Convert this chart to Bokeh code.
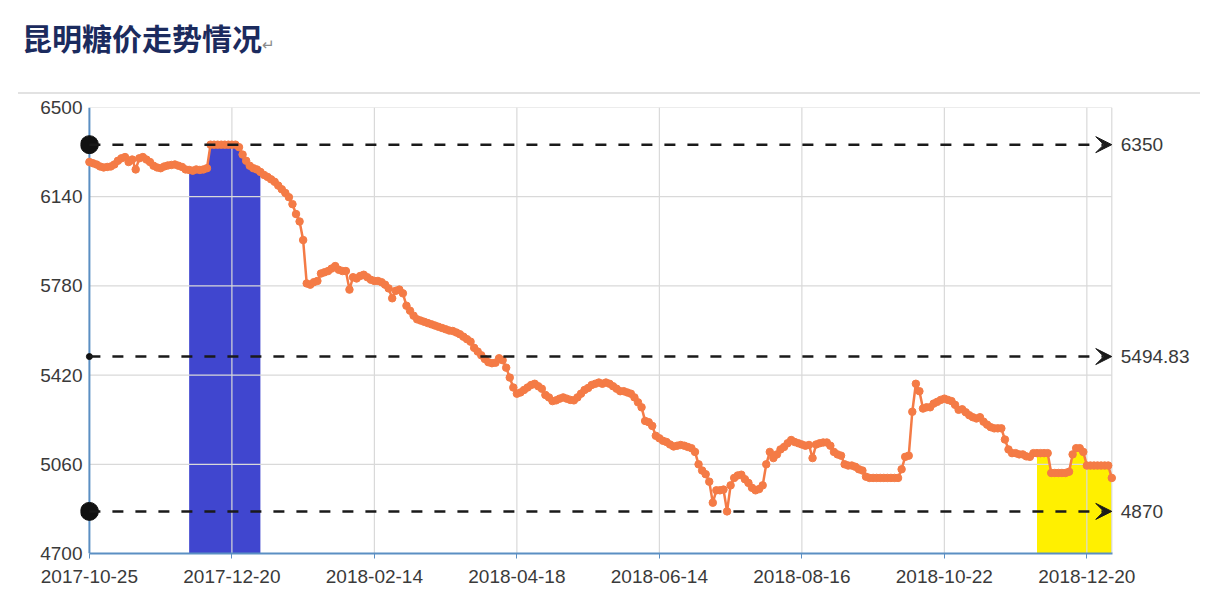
from bokeh.plotting import figure
from bokeh.models import Range1d, FixedTicker, Arrow, VeeHead, Label, Span, Div
from bokeh.layouts import column
from bokeh.embed import file_html
from bokeh.resources import INLINE

title_text = "昆明糖价走势情况"
x_tick_labels = ["2017-10-25", "2017-12-20", "2018-02-14", "2018-04-18",
                 "2018-06-14", "2018-08-16", "2018-10-22", "2018-12-20"]
x_tick_step = 40
y_ticks = [4700, 5060, 5420, 5780, 6140, 6500]

prices = [
    6280, 6275, 6270, 6262, 6258, 6260, 6262, 6270, 6285, 6295,
    6300, 6280, 6290, 6250, 6295, 6300, 6290, 6280, 6265, 6258,
    6255, 6262, 6266, 6268, 6270, 6265, 6260, 6250, 6248, 6245,
    6250, 6248, 6250, 6255, 6350, 6350, 6350, 6350, 6350, 6350,
    6350, 6350, 6340, 6310, 6285, 6265, 6255, 6250, 6240, 6228,
    6220, 6210, 6200, 6185, 6170, 6155, 6138, 6110, 6070, 6040,
    5965, 5790, 5785, 5795, 5800, 5830, 5835, 5840, 5850, 5860,
    5845, 5840, 5840, 5765, 5815, 5810, 5820, 5825, 5815, 5805,
    5800, 5800, 5795, 5785, 5770, 5730, 5760, 5765, 5750, 5700,
    5680, 5660, 5645, 5640, 5635, 5630, 5625, 5620, 5615, 5610,
    5605, 5600, 5598, 5592, 5585, 5575, 5565, 5555, 5530, 5515,
    5500, 5485, 5472, 5468, 5470, 5488, 5480, 5450, 5410, 5370,
    5345, 5350, 5360, 5370, 5380, 5385, 5375, 5365, 5340, 5330,
    5315, 5318, 5325, 5330, 5325, 5320, 5318, 5330, 5345, 5360,
    5368, 5380, 5385, 5390, 5385, 5390, 5385, 5375, 5365, 5355,
    5355, 5350, 5345, 5330, 5310, 5290, 5235, 5230, 5215, 5175,
    5165, 5155, 5150, 5140, 5132, 5135, 5138, 5135, 5130, 5125,
    5110, 5060, 5035, 5020, 4990, 4905, 4955, 4955, 4958, 4870,
    4975, 5005, 5015, 5018, 5000, 4985, 4965, 4955, 4960, 4975,
    5060, 5110, 5085, 5100, 5120, 5130, 5145, 5158, 5150, 5145,
    5140, 5135, 5138, 5085, 5140, 5145, 5148, 5148, 5135, 5110,
    5100, 5095, 5060, 5055, 5055, 5050, 5040, 5035, 5010, 5005,
    5005, 5005, 5005, 5005, 5005, 5005, 5005, 5005, 5040, 5090,
    5095, 5272, 5385, 5355, 5285, 5290, 5290, 5305, 5312, 5320,
    5325, 5320, 5315, 5300, 5280, 5282, 5270, 5258, 5250, 5245,
    5250, 5232, 5220, 5210, 5205, 5205, 5205, 5160, 5120, 5105,
    5105, 5100, 5100, 5092, 5090, 5105, 5105, 5105, 5105, 5105,
    5025, 5025, 5025, 5025, 5025, 5030, 5100, 5125, 5125, 5110,
    5055, 5055, 5055, 5055, 5055, 5055, 5055, 5005,
]

markline_values = [6350, 5494.83, 4870]
blue_span = (28, 48)
yellow_span = (266, 287)

n = len(prices)
xs = list(range(n))
x_ticks = [i * x_tick_step for i in range(len(x_tick_labels))]

AXIS_BLUE = "#5b8fc3"
ORANGE = "#f47b46"
GRID = "#d9d9d9"
FONT = "Liberation Sans"
TXT = "#3a3a3a"

title_div = Div(
    text=('<div style="position:relative;width:1182px;height:94px;margin-left:18px;'
          'border-bottom:2px solid #e2e2e2;">'
          '<span style="position:absolute;left:4px;top:22px;font-family:\'Noto Sans CJK SC\';'
          'font-weight:700;font-size:30px;line-height:30px;color:#1b2b5e;white-space:nowrap;">'
          f'{title_text}<span style="font-size:15px;font-weight:400;color:#8a8a8a;">↵</span>'
          '</span></div>'),
    width=1200, height=97, margin=(0, 0, 0, 0))

p = figure(width=1200, height=496,
           x_range=Range1d(-2.5, n - 1 + 23.5),
           y_range=Range1d(y_ticks[0], y_ticks[-1]),
           output_backend="svg", toolbar_location=None,
           min_border_left=80, min_border_right=5,
           min_border_top=10, min_border_bottom=40,
           background_fill_color="white", border_fill_color="white")
p.outline_line_color = None
p.xgrid.grid_line_color = None
p.ygrid.grid_line_color = None

# highlighted areas under the curve
for (a, b), col in ((blue_span, "#4046cf"), (yellow_span, "#fff000")):
    p.varea(x=xs[a:b + 1], y1=y_ticks[0], y2=prices[a:b + 1],
            fill_color=col, fill_alpha=1.0, level="underlay")

# grid lines (drawn over the filled areas)
p.segment(x0=0, x1=n - 1, y0=y_ticks[1:], y1=y_ticks[1:],
          line_color=GRID, line_width=1.2, level="underlay")
p.segment(x0=x_ticks[1:] + [n - 1], x1=x_ticks[1:] + [n - 1],
          y0=y_ticks[0], y1=y_ticks[-1],
          line_color=GRID, line_width=1.2, level="underlay")

# left axis line
p.add_layout(Span(location=0, dimension="height", line_color=AXIS_BLUE,
                  line_width=2, level="underlay"))

# price series
p.line(xs, prices, line_color=ORANGE, line_width=2.5)
p.scatter(xs, prices, size=7.5, fill_color=ORANGE, line_color=ORANGE)

# mark lines: max, average, min
for v in markline_values:
    p.add_layout(Arrow(x_start=0, y_start=v, x_end=n - 1, y_end=v,
                       line_color="#1a1a1a", line_width=2.5, line_dash="11 12",
                       end=VeeHead(size=16, fill_color="#1a1a1a",
                                   line_color="#1a1a1a", line_width=1)))
    p.add_layout(Label(x=n - 1, y=v, x_offset=9, text=f"{v:g}",
                       text_baseline="middle", text_align="left",
                       text_font=FONT, text_font_size="19px",
                       text_color=TXT))
p.scatter(x=[0, 0, 0], y=markline_values, size=[18, 6, 18],
          fill_color="#111111", line_color="#111111")

# axes
xa = p.xaxis[0]
xa.ticker = FixedTicker(ticks=x_ticks)
xa.major_label_overrides = {t: lab for t, lab in zip(x_ticks, x_tick_labels)}
xa.bounds = (0, n - 1 + 0.3)
xa.axis_line_color = AXIS_BLUE
xa.axis_line_width = 2
xa.major_tick_line_color = AXIS_BLUE
xa.major_tick_out = 5
xa.major_tick_in = 0
xa.minor_tick_line_color = None
xa.minor_tick_out = 0
xa.major_label_standoff = 11
xa.major_label_text_font = FONT
xa.major_label_text_font_size = "19px"
xa.major_label_text_color = TXT

ya = p.yaxis[0]
ya.ticker = FixedTicker(ticks=y_ticks)
ya.axis_line_color = None
ya.major_tick_line_color = None
ya.minor_tick_line_color = None
ya.major_tick_out = 0
ya.major_tick_in = 0
ya.minor_tick_out = 0
ya.major_label_standoff = -2
ya.major_label_text_font = FONT
ya.major_label_text_font_size = "19px"
ya.major_label_text_color = TXT

layout = column(title_div, p, spacing=0)
open("out.html", "w").write(file_html(layout, INLINE))
